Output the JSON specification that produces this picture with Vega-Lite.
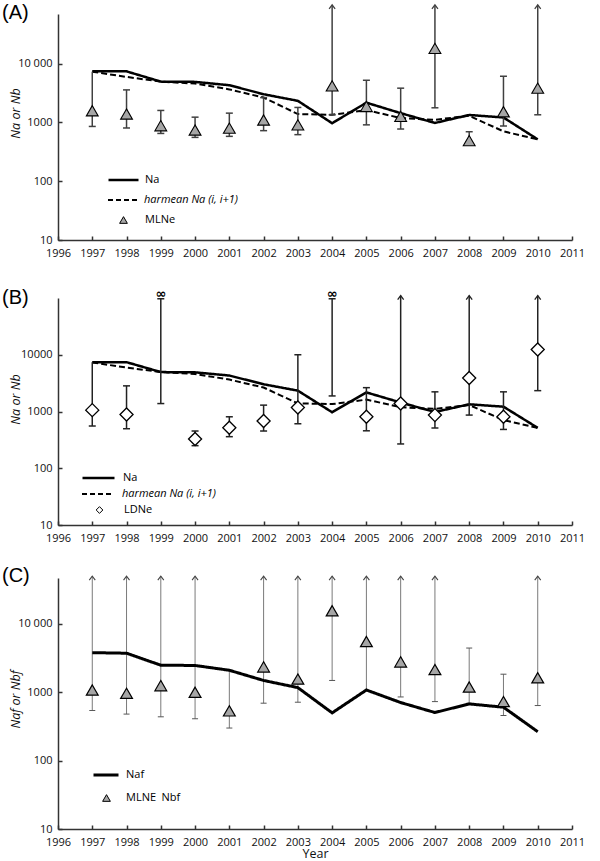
{
  "$schema": "https://vega.github.io/schema/vega-lite/v6.json",
  "padding": {"left": 2, "top": 2, "right": 5, "bottom": 1},
  "background": "white",
  "datasets": {
    "na": [
      {"year": 1997, "Na": 7400, "hm": 7300},
      {"year": 1998, "Na": 7400, "hm": 5950},
      {"year": 1999, "Na": 4950, "hm": 4950},
      {"year": 2000, "Na": 4900, "hm": 4580},
      {"year": 2001, "Na": 4300, "hm": 3650},
      {"year": 2002, "Na": 3020, "hm": 2650},
      {"year": 2003, "Na": 2330, "hm": 1390},
      {"year": 2004, "Na": 970, "hm": 1350},
      {"year": 2005, "Na": 2170, "hm": 1620},
      {"year": 2006, "Na": 1440, "hm": 1190},
      {"year": 2007, "Na": 980, "hm": 1110},
      {"year": 2008, "Na": 1340, "hm": 1300},
      {"year": 2009, "Na": 1215, "hm": 705},
      {"year": 2010, "Na": 515, "hm": 515}
    ],
    "mlA": [
      {"year": 1997, "series": "MLNe", "est": 1580, "lo": 855, "hi": 7300, "cap": false, "arrow": false},
      {"year": 1998, "series": "MLNe", "est": 1390, "lo": 805, "hi": 3580, "cap": true, "arrow": false},
      {"year": 1999, "series": "MLNe", "est": 880, "lo": 650, "hi": 1600, "cap": true, "arrow": false},
      {"year": 2000, "series": "MLNe", "est": 743, "lo": 557, "hi": 1230, "cap": true, "arrow": false},
      {"year": 2001, "series": "MLNe", "est": 800, "lo": 580, "hi": 1440, "cap": true, "arrow": false},
      {"year": 2002, "series": "MLNe", "est": 1100, "lo": 725, "hi": 2650, "cap": true, "arrow": false},
      {"year": 2003, "series": "MLNe", "est": 910, "lo": 620, "hi": 1800, "cap": true, "arrow": false},
      {"year": 2004, "series": "MLNe", "est": 4190, "lo": 1350, "hi": 100000, "cap": false, "arrow": true},
      {"year": 2005, "series": "MLNe", "est": 1870, "lo": 910, "hi": 5220, "cap": true, "arrow": false},
      {"year": 2006, "series": "MLNe", "est": 1265, "lo": 773, "hi": 3830, "cap": true, "arrow": false},
      {"year": 2007, "series": "MLNe", "est": 18200, "lo": 1775, "hi": 100000, "cap": false, "arrow": true},
      {"year": 2008, "series": "MLNe", "est": 490, "lo": 470, "hi": 695, "cap": true, "arrow": false},
      {"year": 2009, "series": "MLNe", "est": 1520, "lo": 870, "hi": 6110, "cap": true, "arrow": false},
      {"year": 2010, "series": "MLNe", "est": 3830, "lo": 1350, "hi": 100000, "cap": false, "arrow": true}
    ],
    "ldB": [
      {"year": 1997, "series": "LDNe", "est": 1057, "lo": 555, "hi": 7400, "cap": false, "arrow": false, "inf": false},
      {"year": 1998, "series": "LDNe", "est": 885, "lo": 497, "hi": 2830, "cap": true, "arrow": false, "inf": false},
      {"year": 1999, "series": "LDNe", "est": null, "lo": 1380, "hi": 97000, "cap": true, "arrow": false, "inf": true},
      {"year": 2000, "series": "LDNe", "est": 328, "lo": 250, "hi": 453, "cap": true, "arrow": false, "inf": false},
      {"year": 2001, "series": "LDNe", "est": 518, "lo": 360, "hi": 807, "cap": true, "arrow": false, "inf": false},
      {"year": 2002, "series": "LDNe", "est": 680, "lo": 453, "hi": 1295, "cap": true, "arrow": false, "inf": false},
      {"year": 2003, "series": "LDNe", "est": 1175, "lo": 608, "hi": 10000, "cap": true, "arrow": false, "inf": false},
      {"year": 2004, "series": "LDNe", "est": null, "lo": 1880, "hi": 97000, "cap": true, "arrow": false, "inf": true},
      {"year": 2005, "series": "LDNe", "est": 807, "lo": 457, "hi": 2630, "cap": true, "arrow": false, "inf": false},
      {"year": 2006, "series": "LDNe", "est": 1380, "lo": 268, "hi": 110000, "cap": false, "arrow": true, "inf": false},
      {"year": 2007, "series": "LDNe", "est": 865, "lo": 512, "hi": 2220, "cap": true, "arrow": false, "inf": false},
      {"year": 2008, "series": "LDNe", "est": 3900, "lo": 865, "hi": 110000, "cap": false, "arrow": true, "inf": false},
      {"year": 2009, "series": "LDNe", "est": 807, "lo": 483, "hi": 2220, "cap": true, "arrow": false, "inf": false},
      {"year": 2010, "series": "LDNe", "est": 12400, "lo": 2330, "hi": 110000, "cap": false, "arrow": true, "inf": false}
    ],
    "naf": [
      {"year": 1997, "Naf": 3800},
      {"year": 1998, "Naf": 3730},
      {"year": 1999, "Naf": 2490},
      {"year": 2000, "Naf": 2470},
      {"year": 2001, "Naf": 2100},
      {"year": 2002, "Naf": 1490},
      {"year": 2003, "Naf": 1170},
      {"year": 2004, "Naf": 500},
      {"year": 2005, "Naf": 1080},
      {"year": 2006, "Naf": 708},
      {"year": 2007, "Naf": 506},
      {"year": 2008, "Naf": 676},
      {"year": 2009, "Naf": 605},
      {"year": 2010, "Naf": 265}
    ],
    "mlC": [
      {"year": 1997, "series": "MLNE\u2002Nbf", "est": 1080, "lo": 541, "hi": 50000, "cap": false, "arrow": true},
      {"year": 1998, "series": "MLNE\u2002Nbf", "est": 966, "lo": 480, "hi": 50000, "cap": false, "arrow": true},
      {"year": 1999, "series": "MLNE\u2002Nbf", "est": 1250, "lo": 438, "hi": 50000, "cap": false, "arrow": true},
      {"year": 2000, "series": "MLNE\u2002Nbf", "est": 1000, "lo": 410, "hi": 50000, "cap": false, "arrow": true},
      {"year": 2001, "series": "MLNE\u2002Nbf", "est": 535, "lo": 300, "hi": 2100, "cap": true, "arrow": false},
      {"year": 2002, "series": "MLNE\u2002Nbf", "est": 2350, "lo": 693, "hi": 50000, "cap": false, "arrow": true},
      {"year": 2003, "series": "MLNE\u2002Nbf", "est": 1560, "lo": 716, "hi": 50000, "cap": false, "arrow": true},
      {"year": 2004, "series": "MLNE\u2002Nbf", "est": 15600, "lo": 1490, "hi": 50000, "cap": false, "arrow": true},
      {"year": 2005, "series": "MLNE\u2002Nbf", "est": 5530, "lo": 1050, "hi": 50000, "cap": false, "arrow": true},
      {"year": 2006, "series": "MLNE\u2002Nbf", "est": 2780, "lo": 855, "hi": 50000, "cap": false, "arrow": true},
      {"year": 2007, "series": "MLNE\u2002Nbf", "est": 2150, "lo": 731, "hi": 50000, "cap": false, "arrow": true},
      {"year": 2008, "series": "MLNE\u2002Nbf", "est": 1195, "lo": 690, "hi": 4440, "cap": true, "arrow": false},
      {"year": 2009, "series": "MLNE\u2002Nbf", "est": 731, "lo": 458, "hi": 1840, "cap": true, "arrow": false},
      {"year": 2010, "series": "MLNE\u2002Nbf", "est": 1630, "lo": 640, "hi": 50000, "cap": false, "arrow": true}
    ]
  },
  "bounds": "flush",
  "spacing": 58,
  "resolve": {"scale": {"x": "independent", "y": "independent", "stroke": "independent", "strokeDash": "independent", "color": "independent"}, "legend": {"stroke": "independent", "strokeDash": "independent", "color": "independent"}},
  "vconcat": [
    {
      "width": 514,
      "height": 226,
      "title": {"text": "(A)", "anchor": "start", "frame": "group", "font": "Liberation Sans", "fontSize": 20, "fontWeight": "normal", "color": "#000", "offset": 0, "baseline": "alphabetic", "dx": -56, "dy": 37},
      "layer": [
        {
          "data": {"name": "na"},
          "mark": {"type": "line", "color": "#000", "strokeWidth": 2.5},
          "encoding": {
            "x": {"field": "year", "type": "quantitative", "scale": {"domain": [1996, 2011], "nice": false, "zero": false}, "axis": {"values": [1996, 1997, 1998, 1999, 2000, 2001, 2002, 2003, 2004, 2005, 2006, 2007, 2008, 2009, 2010, 2011], "tickCount": 20, "format": "d", "title": null, "labelOverlap": false, "labelFlush": false}},
            "y": {"field": "Na", "type": "quantitative", "scale": {"type": "log", "domain": [10, 70000], "nice": false}, "axis": {"values": [10, 100, 1000, 10000], "format": "d", "labelExpr": "datum.value == 10000 ? '10 000' : datum.label", "title": "Na or Nb", "titleFont": "Open Sans", "titleFontStyle": "italic", "titleFontWeight": "normal", "titleFontSize": 12.5, "titleX": -43, "titleY": 99, "titleBaseline": "middle"}},
            "strokeDash": {"datum": "Na", "type": "nominal", "scale": {"domain": ["Na"], "range": [[1, 0]]}, "legend": {"title": null, "orient": "none", "legendX": 49, "legendY": 159, "clipHeight": 14, "symbolSize": 900, "symbolType": "stroke", "symbolStrokeWidth": 2.5, "symbolStrokeColor": "#000", "labelOffset": 5}}
          }
        },
        {
          "data": {"name": "na"},
          "mark": {"type": "line", "color": "#000", "strokeWidth": 2, "strokeDash": [6, 3]},
          "encoding": {
            "x": {"field": "year", "type": "quantitative"},
            "y": {"field": "hm", "type": "quantitative"},
            "color": {"datum": "harmean Na (i, i+1)", "type": "nominal", "scale": {"domain": ["harmean Na (i, i+1)"], "range": ["#000"]}, "legend": {"title": null, "orient": "none", "legendX": 49, "legendY": 179, "clipHeight": 14, "symbolSize": 900, "symbolType": "stroke", "symbolStrokeWidth": 2, "symbolDash": [5, 3], "symbolStrokeColor": "#000", "labelOffset": 5, "labelFontStyle": "italic"}}
          }
        },
        {
          "data": {"name": "mlA"},
          "mark": {"type": "rule", "color": "#404040", "strokeWidth": 1.5},
          "encoding": {
            "x": {"field": "year", "type": "quantitative"},
            "y": {"field": "lo", "type": "quantitative"},
            "y2": {"field": "hi"}
          }
        },
        {
          "data": {"name": "mlA"},
          "mark": {"type": "tick", "orient": "horizontal", "size": 7, "thickness": 1.5, "color": "#404040", "opacity": 1},
          "encoding": {
            "x": {"field": "year", "type": "quantitative"},
            "y": {"field": "lo", "type": "quantitative"}
          }
        },
        {
          "data": {"name": "mlA"},
          "transform": [{"filter": "datum.cap"}],
          "mark": {"type": "tick", "orient": "horizontal", "size": 7, "thickness": 1.5, "color": "#404040", "opacity": 1},
          "encoding": {
            "x": {"field": "year", "type": "quantitative"},
            "y": {"field": "hi", "type": "quantitative"}
          }
        },
        {
          "data": {"name": "mlA"},
          "transform": [{"filter": "datum.arrow"}],
          "mark": {"type": "point", "shape": "M-1,1.3L0,0L1,1.3", "size": 36, "filled": false, "stroke": "#404040", "strokeWidth": 1.3, "opacity": 1},
          "encoding": {
            "x": {"field": "year", "type": "quantitative"},
            "y": {"field": "hi", "type": "quantitative"}
          }
        },
        {
          "data": {"name": "mlA"},
          "mark": {"type": "point", "shape": "triangle-up", "size": 140, "filled": true, "fill": "#a6a6a6", "strokeWidth": 1.1, "opacity": 1},
          "encoding": {
            "x": {"field": "year", "type": "quantitative"},
            "y": {"field": "est", "type": "quantitative"},
            "stroke": {"field": "series", "type": "nominal", "scale": {"domain": ["MLNe"], "range": ["#000"]}, "legend": {"title": null, "orient": "none", "legendX": 60, "legendY": 199, "clipHeight": 14, "symbolSize": 60, "symbolStrokeWidth": 1, "labelOffset": 16}}
          }
        }
      ]
    },
    {
      "bounds": "flush",
      "spacing": 53,
      "resolve": {"scale": {"x": "independent", "y": "independent", "stroke": "independent", "strokeDash": "independent", "color": "independent"}, "legend": {"stroke": "independent", "strokeDash": "independent", "color": "independent"}},
      "vconcat": [
        {
          "width": 514,
          "height": 227,
          "title": {"text": "(B)", "anchor": "start", "frame": "group", "font": "Liberation Sans", "fontSize": 20, "fontWeight": "normal", "color": "#000", "offset": 0, "baseline": "alphabetic", "dx": -56, "dy": 36},
          "layer": [
            {
              "data": {"name": "na"},
              "mark": {"type": "line", "color": "#000", "strokeWidth": 2.5},
              "encoding": {
                "x": {"field": "year", "type": "quantitative", "scale": {"domain": [1996, 2011], "nice": false, "zero": false}, "axis": {"values": [1996, 1997, 1998, 1999, 2000, 2001, 2002, 2003, 2004, 2005, 2006, 2007, 2008, 2009, 2010, 2011], "tickCount": 20, "format": "d", "title": null, "labelOverlap": false, "labelFlush": false}},
                "y": {"field": "Na", "type": "quantitative", "scale": {"type": "log", "domain": [10, 100000], "nice": false}, "axis": {"values": [10, 100, 1000, 10000], "format": "d", "title": "Na or Nb", "titleFont": "Open Sans", "titleFontStyle": "italic", "titleFontWeight": "normal", "titleFontSize": 12.5, "titleX": -43, "titleY": 101, "titleBaseline": "middle"}},
                "strokeDash": {"datum": "Na", "type": "nominal", "scale": {"domain": ["Na"], "range": [[1, 0]]}, "legend": {"title": null, "orient": "none", "legendX": 23, "legendY": 173, "clipHeight": 14, "symbolSize": 1024, "symbolType": "stroke", "symbolStrokeWidth": 2.5, "symbolStrokeColor": "#000", "labelOffset": 7}}
              }
            },
            {
              "data": {"name": "na"},
              "mark": {"type": "line", "color": "#000", "strokeWidth": 2, "strokeDash": [6, 3]},
              "encoding": {
                "x": {"field": "year", "type": "quantitative"},
                "y": {"field": "hm", "type": "quantitative"},
                "color": {"datum": "harmean Na (i, i+1)", "type": "nominal", "scale": {"domain": ["harmean Na (i, i+1)"], "range": ["#000"]}, "legend": {"title": null, "orient": "none", "legendX": 23, "legendY": 189, "clipHeight": 14, "symbolSize": 1024, "symbolType": "stroke", "symbolStrokeWidth": 2, "symbolDash": [5, 3], "symbolStrokeColor": "#000", "labelOffset": 7, "labelFontStyle": "italic"}}
              }
            },
            {
              "data": {"name": "ldB"},
              "mark": {"type": "rule", "color": "#222", "strokeWidth": 1.5},
              "encoding": {
                "x": {"field": "year", "type": "quantitative"},
                "y": {"field": "lo", "type": "quantitative"},
                "y2": {"field": "hi"}
              }
            },
            {
              "data": {"name": "ldB"},
              "mark": {"type": "tick", "orient": "horizontal", "size": 7, "thickness": 1.5, "color": "#222", "opacity": 1},
              "encoding": {
                "x": {"field": "year", "type": "quantitative"},
                "y": {"field": "lo", "type": "quantitative"}
              }
            },
            {
              "data": {"name": "ldB"},
              "transform": [{"filter": "datum.cap"}],
              "mark": {"type": "tick", "orient": "horizontal", "size": 7, "thickness": 1.5, "color": "#222", "opacity": 1},
              "encoding": {
                "x": {"field": "year", "type": "quantitative"},
                "y": {"field": "hi", "type": "quantitative"}
              }
            },
            {
              "data": {"name": "ldB"},
              "transform": [{"filter": "datum.arrow"}],
              "mark": {"type": "point", "shape": "M-1,1.3L0,0L1,1.3", "size": 36, "filled": false, "stroke": "#222", "strokeWidth": 1.3, "opacity": 1},
              "encoding": {
                "x": {"field": "year", "type": "quantitative"},
                "y": {"field": "hi", "type": "quantitative"}
              }
            },
            {
              "data": {"name": "ldB"},
              "transform": [{"filter": "datum.inf"}],
              "mark": {"type": "text", "text": "∞", "font": "DejaVu Sans", "fontSize": 13, "fontWeight": "bold", "baseline": "alphabetic", "dy": -1, "color": "#000"},
              "encoding": {
                "x": {"field": "year", "type": "quantitative"},
                "y": {"field": "hi", "type": "quantitative"}
              }
            },
            {
              "data": {"name": "ldB"},
              "mark": {"type": "point", "shape": "diamond", "size": 170, "filled": true, "fill": "#fff", "strokeWidth": 1.3, "opacity": 1},
              "encoding": {
                "x": {"field": "year", "type": "quantitative"},
                "y": {"field": "est", "type": "quantitative"},
                "stroke": {"field": "series", "type": "nominal", "scale": {"domain": ["LDNe"], "range": ["#000"]}, "legend": {"title": null, "orient": "none", "legendX": 36, "legendY": 205, "clipHeight": 14, "symbolSize": 45, "symbolStrokeWidth": 1, "labelOffset": 19}}
              }
            }
          ]
        },
        {
          "width": 514,
          "height": 251,
          "title": {"text": "(C)", "anchor": "start", "frame": "group", "font": "Liberation Sans", "fontSize": 20, "fontWeight": "normal", "color": "#000", "offset": 0, "baseline": "alphabetic", "dx": -56, "dy": 28},
          "layer": [
            {
              "data": {"name": "mlC"},
              "mark": {"type": "rule", "color": "#7a7a7a", "strokeWidth": 1},
              "encoding": {
                "x": {"field": "year", "type": "quantitative", "scale": {"domain": [1996, 2011], "nice": false, "zero": false}, "axis": {"values": [1996, 1997, 1998, 1999, 2000, 2001, 2002, 2003, 2004, 2005, 2006, 2007, 2008, 2009, 2010, 2011], "tickCount": 20, "format": "d", "title": "Year", "titleFont": "Open Sans", "titleFontSize": 12.5, "titleFontWeight": "normal", "titlePadding": 0, "labelOverlap": false, "labelFlush": false}},
                "y": {"field": "lo", "type": "quantitative", "scale": {"type": "log", "domain": [10, 47000], "nice": false}, "axis": {"values": [10, 100, 1000, 10000], "format": "d", "labelExpr": "datum.value == 10000 ? '10 000' : datum.label", "title": "Naf or Nbf", "titleFont": "Open Sans", "titleFontStyle": "italic", "titleFontWeight": "normal", "titleFontSize": 12.5, "titleX": -43, "titleY": 121, "titleBaseline": "middle"}},
                "y2": {"field": "hi"}
              }
            },
            {
              "data": {"name": "mlC"},
              "mark": {"type": "tick", "orient": "horizontal", "size": 6, "thickness": 1, "color": "#555", "opacity": 1},
              "encoding": {
                "x": {"field": "year", "type": "quantitative"},
                "y": {"field": "lo", "type": "quantitative"}
              }
            },
            {
              "data": {"name": "mlC"},
              "transform": [{"filter": "datum.cap"}],
              "mark": {"type": "tick", "orient": "horizontal", "size": 6, "thickness": 1, "color": "#555", "opacity": 1},
              "encoding": {
                "x": {"field": "year", "type": "quantitative"},
                "y": {"field": "hi", "type": "quantitative"}
              }
            },
            {
              "data": {"name": "mlC"},
              "transform": [{"filter": "datum.arrow"}],
              "mark": {"type": "point", "shape": "M-1,1.3L0,0L1,1.3", "size": 36, "filled": false, "stroke": "#444", "strokeWidth": 1.1, "opacity": 1},
              "encoding": {
                "x": {"field": "year", "type": "quantitative"},
                "y": {"field": "hi", "type": "quantitative"}
              }
            },
            {
              "data": {"name": "naf"},
              "mark": {"type": "line", "color": "#000", "strokeWidth": 3},
              "encoding": {
                "x": {"field": "year", "type": "quantitative"},
                "y": {"field": "Naf", "type": "quantitative"},
                "strokeDash": {"datum": "Naf", "type": "nominal", "scale": {"domain": ["Naf"], "range": [[1, 0]]}, "legend": {"title": null, "orient": "none", "legendX": 34, "legendY": 190, "clipHeight": 14, "symbolSize": 625, "symbolType": "stroke", "symbolStrokeWidth": 3, "symbolStrokeColor": "#000", "labelOffset": 6}}
              }
            },
            {
              "data": {"name": "mlC"},
              "mark": {"type": "point", "shape": "triangle-up", "size": 140, "filled": true, "fill": "#a6a6a6", "strokeWidth": 1.2, "opacity": 1},
              "encoding": {
                "x": {"field": "year", "type": "quantitative"},
                "y": {"field": "est", "type": "quantitative"},
                "stroke": {"field": "series", "type": "nominal", "scale": {"domain": ["MLNE\u2002Nbf"], "range": ["#000"]}, "legend": {"title": null, "orient": "none", "legendX": 43, "legendY": 213, "clipHeight": 14, "symbolSize": 60, "symbolStrokeWidth": 1, "labelOffset": 14}}
              }
            }
          ]
        }
      ]
    }
  ],
  "config": {
    "view": {"stroke": null},
    "font": "Open Sans",
    "axis": {"grid": false, "domainColor": "#333", "domainWidth": 1.5, "tickColor": "#333", "tickWidth": 1.5, "tickSize": -4, "labelFont": "Open Sans", "labelFontSize": 11, "labelColor": "#111", "titleColor": "#111", "labelFlush": false, "labelOverlap": false},
    "axisX": {"labelPadding": 11},
    "axisY": {"labelPadding": 10},
    "legend": {"labelFont": "Open Sans", "labelFontSize": 11, "labelColor": "#000", "padding": 0, "rowPadding": 0}
  }
}
